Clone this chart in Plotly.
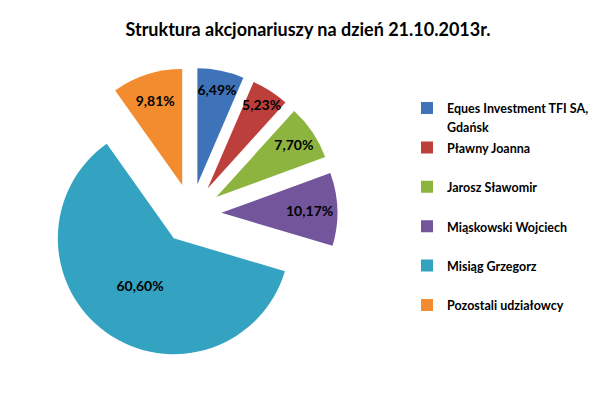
import plotly.graph_objects as go

title = "Struktura akcjonariuszy na dzień 21.10.2013r."
categories = ["Eques Investment TFI SA,|Gdańsk", "Pławny Joanna", "Jarosz Sławomir",
              "Miąskowski Wojciech", "Misiąg Grzegorz", "Pozostali udziałowcy"]
values = [6.49, 5.23, 7.70, 10.17, 60.60, 9.81]
text_labels = ["6,49%", "5,23%", "7,70%", "10,17%", "60,60%", "9,81%"]
colors = ["#3E73B9", "#BD3F3C", "#8DB43F", "#72559B", "#33A3C1", "#F28C2E"]


def legend_text(cat):
    lines = cat.split("|")
    if len(lines) == 1:
        lines.append(" ")
    return "<br>".join("<span style='font-size:12.5px'>%s</span>" % ln for ln in lines)


legend_labels = [legend_text(c) for c in categories]

fig = go.Figure(go.Pie(
    labels=legend_labels,
    values=values,
    text=text_labels,
    textinfo="text",
    textposition="inside",
    insidetextorientation="horizontal",
    sort=False,
    direction="clockwise",
    rotation=0,
    pull=[0.26] * len(values),
    marker=dict(colors=colors, line=dict(width=0)),
    textfont=dict(family="Lato", size=14, color="black", weight="bold"),
    domain=dict(x=[0.062, 0.549], y=[0.116, 0.850]),
    hoverinfo="text",
))

fig.update_layout(
    width=600, height=398,
    margin=dict(l=0, r=0, t=0, b=0, autoexpand=False),
    paper_bgcolor="white",
    title=dict(text=title, x=0.5, xanchor="center", y=0.945, yanchor="middle",
               font=dict(family="Lato", size=18, color="black", weight="bold")),
    uniformtext=dict(minsize=14, mode="show"),
    legend=dict(x=0.665, y=0.788, xanchor="left", yanchor="top", valign="top",
                font=dict(family="Lato", size=14, color="black", weight="bold"),
                itemwidth=30, traceorder="normal"),
    showlegend=True,
)

fig.write_html("out.html")
